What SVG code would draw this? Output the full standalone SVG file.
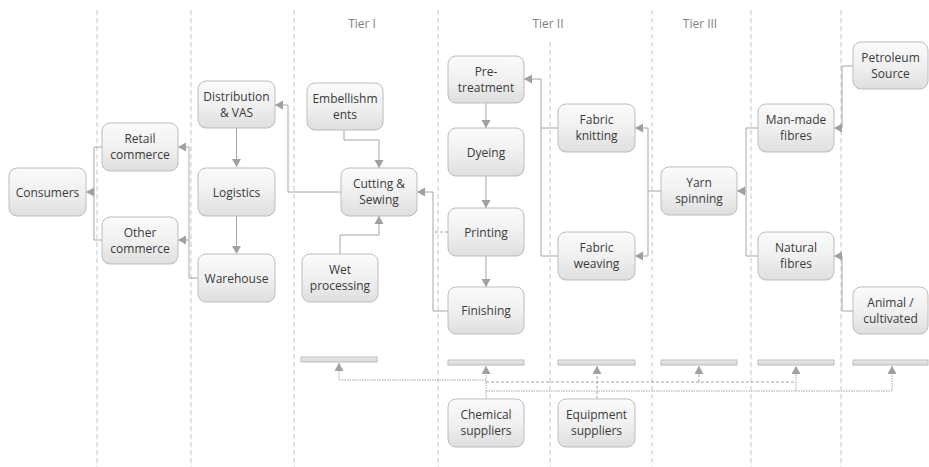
<svg xmlns="http://www.w3.org/2000/svg" width="929" height="467" viewBox="0 0 929 467">
<style>
.bg{fill:#ffffff}
.lane{stroke:#c8c8c8;stroke-width:1;stroke-dasharray:5,3;fill:none}
.box{fill:url(#g);stroke:#bdbdbd;stroke-width:1}
.bar{fill:url(#gb);stroke:#bdbdbd;stroke-width:1}
.t{font-family:"Open Sans","Liberation Sans",sans-serif;font-size:12px;fill:#3a3a3a;text-anchor:middle}
.tier{font-family:"Open Sans","Liberation Sans",sans-serif;font-size:12px;fill:#808080;text-anchor:middle}
.c{stroke:#a6a6a6;stroke-width:1;fill:none}
.a{marker-end:url(#ah)}
.dot{stroke-dasharray:1.5,1}
.dash{stroke-dasharray:3,2}
</style>
<defs>
<linearGradient id="g" x1="0" y1="0" x2="0" y2="1">
<stop offset="0" stop-color="#fbfbfb"/>
<stop offset="0.55" stop-color="#efefef"/>
<stop offset="1" stop-color="#dedede"/>
</linearGradient>
<linearGradient id="gb" x1="0" y1="0" x2="0" y2="1">
<stop offset="0" stop-color="#ececec"/>
<stop offset="1" stop-color="#d6d6d6"/>
</linearGradient>
<marker id="ah" markerUnits="userSpaceOnUse" markerWidth="10" markerHeight="10" refX="8" refY="4.5" orient="auto">
<path d="M0,0 L8,4.5 L0,9 z" fill="#a0a0a0"/>
</marker>
</defs>
<rect class="bg" x="0" y="0" width="929" height="467"/>
<g id="lanes">
<line class="lane" x1="97" y1="10" x2="97" y2="467"/>
<line class="lane" x1="191" y1="10" x2="191" y2="467"/>
<line class="lane" x1="294" y1="10" x2="294" y2="467"/>
<line class="lane" x1="438" y1="10" x2="438" y2="467"/>
<line class="lane" x1="550" y1="42" x2="550" y2="467"/>
<line class="lane" x1="652" y1="10" x2="652" y2="467"/>
<line class="lane" x1="751" y1="10" x2="751" y2="467"/>
<line class="lane" x1="841" y1="10" x2="841" y2="467"/>
</g>
<g id="tiers">
<text class="tier" x="362" y="28">Tier I</text>
<text class="tier" x="548" y="28">Tier II</text>
<text class="tier" x="700" y="28">Tier III</text>
</g>
<g id="connectors">
<path class="c" d="M102,147 H94 V240 H102"/>
<path class="c a" d="M94,192 H86"/>
<path class="c a" d="M198,278 H189 V147 H178"/>
<path class="c a" d="M189,240 H178"/>
<path class="c a" d="M236.5,128 V167"/>
<path class="c a" d="M236.5,216 V254"/>
<path class="c a" d="M341,192 H288 V105 H275"/>
<path class="c a" d="M344,130 V140 H379 V168"/>
<path class="c a" d="M340,254 V235 H379 V216"/>
<path class="c a" d="M448,311 H433 V192 H417"/>
<path class="c dash" d="M448,232 H433"/>
<path class="c a" d="M486,103 V128"/>
<path class="c a" d="M486,176 V208"/>
<path class="c a" d="M486,256 V287"/>
<path class="c a" d="M558,128 H541 V79 H524"/>
<path class="c" d="M541,128 V256 H558"/>
<path class="c a" d="M661,191 H648 V128 H635"/>
<path class="c a" d="M648,191 V256 H635"/>
<path class="c" d="M758,128 H746 V256 H758"/>
<path class="c a" d="M746,191 H737"/>
<path class="c a" d="M853,66 H842 V128 H834"/>
<path class="c a" d="M853,311 H842 V256 H834"/>
<path class="c dot a" d="M486,399 V366"/>
<path class="c dot a" d="M486,380 H339 V363"/>
<path class="c dot a" d="M486,391 H892 V366"/>
<path class="c dot a" d="M796,391 V366"/>
<path class="c dash a" d="M597,399 V366"/>
<path class="c dash" d="M486,382 H796"/>
<path class="c dash a" d="M699,382 V366"/>
</g>
<g id="bars">
<rect class="bar" x="301" y="357" width="76" height="5"/>
<rect class="bar" x="448" y="360" width="76" height="5"/>
<rect class="bar" x="558" y="360" width="77" height="5"/>
<rect class="bar" x="661" y="360" width="76" height="5"/>
<rect class="bar" x="758" y="360" width="76" height="5"/>
<rect class="bar" x="853" y="360" width="75" height="5"/>
</g>
<g id="consumers"><rect class="box" x="9" y="168" width="77" height="48" rx="8"/><text class="t" x="47.5" y="196.5">Consumers</text></g>
<g id="retail"><rect class="box" x="102" y="123" width="76" height="48" rx="8"/><text class="t" x="140"><tspan x="140" y="143">Retail</tspan><tspan x="140" y="159">commerce</tspan></text></g>
<g id="other"><rect class="box" x="102" y="217" width="76" height="47" rx="8"/><text class="t" x="140"><tspan x="140" y="236.5">Other</tspan><tspan x="140" y="252.5">commerce</tspan></text></g>
<g id="distribution"><rect class="box" x="198" y="81" width="77" height="47" rx="8"/><text class="t" x="236.5"><tspan x="236.5" y="100.5">Distribution</tspan><tspan x="236.5" y="116.5">&amp; VAS</tspan></text></g>
<g id="logistics"><rect class="box" x="198" y="168" width="77" height="48" rx="8"/><text class="t" x="236.5" y="196.5">Logistics</text></g>
<g id="warehouse"><rect class="box" x="198" y="254" width="77" height="48" rx="8"/><text class="t" x="236.5" y="282.5">Warehouse</text></g>
<g id="embellishments"><rect class="box" x="307" y="83" width="76" height="47" rx="8"/><text class="t" x="345"><tspan x="345" y="102.5">Embellishm</tspan><tspan x="345" y="118.5">ents</tspan></text></g>
<g id="cutting"><rect class="box" x="341" y="168" width="76" height="48" rx="8"/><text class="t" x="379"><tspan x="379" y="188">Cutting &amp;</tspan><tspan x="379" y="204">Sewing</tspan></text></g>
<g id="wet"><rect class="box" x="302" y="254" width="76" height="48" rx="8"/><text class="t" x="340"><tspan x="340" y="274">Wet</tspan><tspan x="340" y="290">processing</tspan></text></g>
<g id="pretreatment"><rect class="box" x="448" y="56" width="76" height="47" rx="8"/><text class="t" x="486"><tspan x="486" y="75.5">Pre-</tspan><tspan x="486" y="91.5">treatment</tspan></text></g>
<g id="dyeing"><rect class="box" x="448" y="128" width="76" height="48" rx="8"/><text class="t" x="486" y="156.5">Dyeing</text></g>
<g id="printing"><rect class="box" x="448" y="208" width="76" height="48" rx="8"/><text class="t" x="486" y="236.5">Printing</text></g>
<g id="finishing"><rect class="box" x="448" y="287" width="76" height="47" rx="8"/><text class="t" x="486" y="315">Finishing</text></g>
<g id="knitting"><rect class="box" x="558" y="104" width="77" height="48" rx="8"/><text class="t" x="596.5"><tspan x="596.5" y="124">Fabric</tspan><tspan x="596.5" y="140">knitting</tspan></text></g>
<g id="weaving"><rect class="box" x="558" y="232" width="77" height="48" rx="8"/><text class="t" x="596.5"><tspan x="596.5" y="252">Fabric</tspan><tspan x="596.5" y="268">weaving</tspan></text></g>
<g id="yarn"><rect class="box" x="661" y="167" width="76" height="48" rx="8"/><text class="t" x="699"><tspan x="699" y="187">Yarn</tspan><tspan x="699" y="203">spinning</tspan></text></g>
<g id="manmade"><rect class="box" x="758" y="104" width="76" height="48" rx="8"/><text class="t" x="796"><tspan x="796" y="124">Man-made</tspan><tspan x="796" y="140">fibres</tspan></text></g>
<g id="natural"><rect class="box" x="758" y="232" width="76" height="48" rx="8"/><text class="t" x="796"><tspan x="796" y="252">Natural</tspan><tspan x="796" y="268">fibres</tspan></text></g>
<g id="petroleum"><rect class="box" x="853" y="42" width="75" height="47" rx="8"/><text class="t" x="890.5"><tspan x="890.5" y="61.5">Petroleum</tspan><tspan x="890.5" y="77.5">Source</tspan></text></g>
<g id="animal"><rect class="box" x="853" y="287" width="75" height="47" rx="8"/><text class="t" x="890.5"><tspan x="890.5" y="306.5">Animal /</tspan><tspan x="890.5" y="322.5">cultivated</tspan></text></g>
<g id="chemical"><rect class="box" x="448" y="399" width="76" height="48" rx="8"/><text class="t" x="486"><tspan x="486" y="419">Chemical</tspan><tspan x="486" y="435">suppliers</tspan></text></g>
<g id="equipment"><rect class="box" x="558" y="399" width="77" height="48" rx="8"/><text class="t" x="596.5"><tspan x="596.5" y="419">Equipment</tspan><tspan x="596.5" y="435">suppliers</tspan></text></g>
</svg>
